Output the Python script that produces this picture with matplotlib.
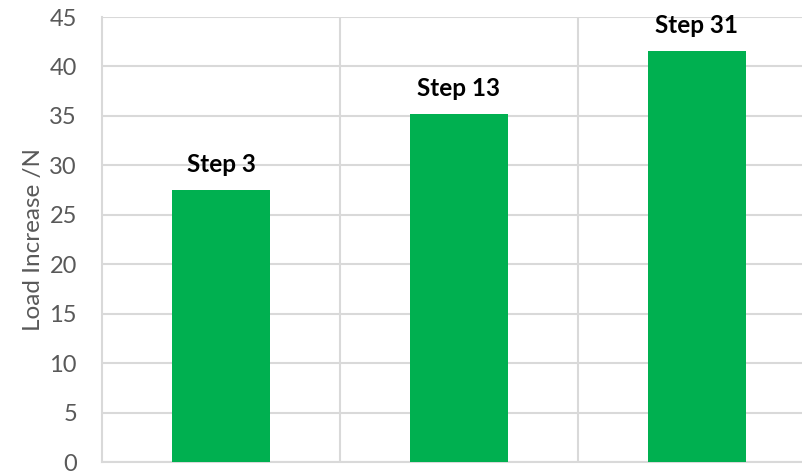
import matplotlib.pyplot as plt

# 数据
steps = ["Step 3", "Step 13", "Step 31"]
load_increase = [27.5, 35.2, 41.6]
y_ticks = [0, 5, 10, 15, 20, 25, 30, 35, 40, 45]

plt.rcParams['font.family'] = ['Lato', 'DejaVu Sans']

fig = plt.figure(figsize=(8.02, 4.71), dpi=100)
ax = fig.add_axes([0.1272, 0.0191, 0.890, 0.9448])

x = range(len(steps))
bars = ax.bar(x, load_increase, width=0.41, color="#00B050", zorder=3)

# 柱子上方标注步数
for a, b, s in zip(x, load_increase, steps):
    ax.annotate(s, (a, b), xytext=(0, 10), textcoords="offset points",
                ha="center", va="bottom", fontsize=17.5, fontweight="bold", color="black")

ax.set_xlim(-0.5, len(steps) - 0.5)
ax.set_ylim(0, 45)
ax.set_yticks(y_ticks)
ax.set_xticks([0.5, 1.5], minor=False)
ax.set_xticklabels([])
ax.tick_params(axis="both", length=0, labelsize=17, labelcolor="#595959", pad=18)
ax.grid(True, color="#D9D9D9", linewidth=1.5, zorder=0)
for side in ["top", "right"]:
    ax.spines[side].set_visible(False)
for side in ["left", "bottom"]:
    ax.spines[side].set_color("#D9D9D9")
    ax.spines[side].set_linewidth(1.5)

ax.set_ylabel("Load Increase /N", fontsize=17.5, color="#595959", labelpad=4)

plt.savefig("out.png", dpi=100)
